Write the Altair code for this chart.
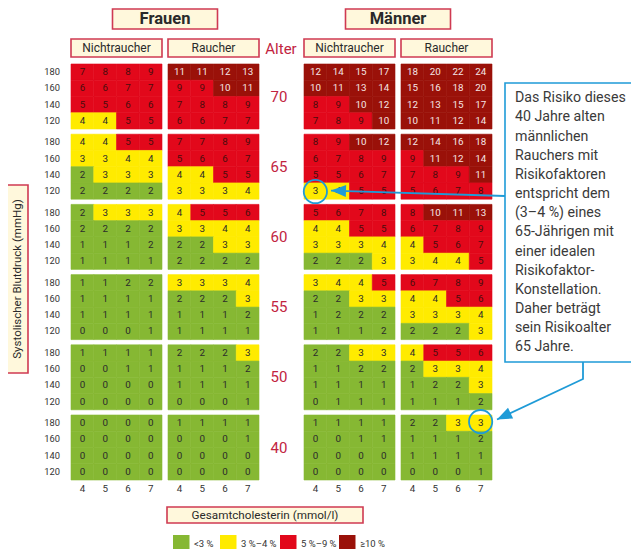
import math
import altair as alt
import pandas as pd

# ---------------- data ----------------
ages = [70, 65, 60, 55, 50, 40]
sbp_levels = [180, 160, 140, 120]
chol_levels = [4, 5, 6, 7]
sex_labels = ["Frauen", "Männer"]
smoke_labels = ["Nichtraucher", "Raucher"]

# risk (%) per age block -> rows SBP 180..120 -> columns cholesterol 4..7
frauen_nichtraucher = [
    [[7, 8, 8, 9], [6, 6, 7, 7], [5, 5, 6, 6], [4, 4, 5, 5]],
    [[4, 4, 5, 5], [3, 3, 4, 4], [2, 3, 3, 3], [2, 2, 2, 2]],
    [[2, 3, 3, 3], [2, 2, 2, 2], [1, 1, 1, 2], [1, 1, 1, 1]],
    [[1, 1, 2, 2], [1, 1, 1, 1], [1, 1, 1, 1], [0, 0, 0, 1]],
    [[1, 1, 1, 1], [0, 0, 1, 1], [0, 0, 0, 0], [0, 0, 0, 0]],
    [[0, 0, 0, 0], [0, 0, 0, 0], [0, 0, 0, 0], [0, 0, 0, 0]],
]
frauen_raucher = [
    [[11, 11, 12, 13], [9, 9, 10, 11], [7, 8, 8, 9], [6, 6, 7, 7]],
    [[7, 7, 8, 9], [5, 6, 6, 7], [4, 4, 5, 5], [3, 3, 3, 4]],
    [[4, 5, 5, 6], [3, 3, 4, 4], [2, 2, 3, 3], [2, 2, 2, 2]],
    [[3, 3, 3, 4], [2, 2, 2, 3], [1, 1, 1, 2], [1, 1, 1, 1]],
    [[2, 2, 2, 3], [1, 1, 1, 2], [1, 1, 1, 1], [0, 0, 0, 1]],
    [[1, 1, 1, 1], [0, 0, 0, 1], [0, 0, 0, 0], [0, 0, 0, 0]],
]
maenner_nichtraucher = [
    [[12, 14, 15, 17], [10, 11, 13, 14], [8, 9, 10, 12], [7, 8, 9, 10]],
    [[8, 9, 10, 12], [6, 7, 8, 9], [5, 5, 6, 7], [3, 4, 5, 5]],
    [[5, 6, 7, 8], [4, 4, 5, 5], [3, 3, 3, 4], [2, 2, 2, 3]],
    [[3, 4, 4, 5], [2, 2, 3, 3], [1, 2, 2, 2], [1, 1, 1, 2]],
    [[2, 2, 3, 3], [1, 1, 2, 2], [1, 1, 1, 1], [0, 1, 1, 1]],
    [[1, 1, 1, 1], [0, 0, 1, 1], [0, 0, 0, 0], [0, 0, 0, 0]],
]
maenner_raucher = [
    [[18, 20, 22, 24], [15, 16, 18, 20], [12, 13, 15, 17], [10, 11, 12, 14]],
    [[12, 14, 16, 18], [9, 11, 12, 14], [7, 8, 9, 11], [5, 6, 7, 8]],
    [[8, 10, 11, 13], [6, 7, 8, 9], [4, 5, 6, 7], [3, 4, 4, 5]],
    [[6, 7, 8, 9], [4, 4, 5, 6], [3, 3, 3, 4], [2, 2, 2, 3]],
    [[4, 5, 5, 6], [2, 3, 3, 4], [1, 2, 2, 3], [1, 1, 1, 2]],
    [[2, 2, 3, 3], [1, 1, 1, 2], [1, 1, 1, 1], [0, 0, 0, 1]],
]
panels = [frauen_nichtraucher, frauen_raucher, maenner_nichtraucher, maenner_raucher]

risk_labels = ["<3 %", "3 %\u20134 %", "5 %\u20139 %", "\u226510 %"]
risk_thresholds = [3, 5, 10]
risk_examples = [0, 3, 5, 10]
risk_colors = ["#86b833", "#ffeb00", "#e2081b", "#9a1109"]

note_lines = [
    "Das Risiko dieses", "40 Jahre alten", "männlichen", "Rauchers mit",
    "Risikofaktoren", "entspricht dem", "(3\u20134 %) eines", "65-Jährigen mit",
    "einer idealen", "Risikofaktor-", "Konstellation.", "Daher beträgt",
    "sein Risikoalter", "65 Jahre.",
]

# ---------------- layout (page pixels) ----------------
PANEL_LEFT = [71, 168, 304, 401]
CELL_W = 22.75
CELL_H = 16.25
BLOCK_TOP = [64 + i * 70.2 for i in range(len(ages))]
FONT = "Roboto"
RED_TXT = "#c2243f"
BOX_STROKE = "#cf3a52"
BOX_FILL = "#fff8dc"
BLUE = "#1f9bd7"
DARK = "#333333"

xs = alt.Scale(domain=[8, 631], nice=False, zero=False)
ys = alt.Scale(domain=[8, 549], reverse=True, nice=False, zero=False)
color_scale = alt.Scale(type="threshold", domain=risk_thresholds, range=risk_colors)

def X(f):
    return alt.X(f, type="quantitative", scale=xs, axis=None)

def Y(f):
    return alt.Y(f, type="quantitative", scale=ys, axis=None)

# ---------------- cells ----------------
rows = []
for g, grid in enumerate(panels):
    for b, age in enumerate(ages):
        for r, sbp in enumerate(sbp_levels):
            for c, chol in enumerate(chol_levels):
                rows.append(dict(g=g, b=b, r=r, c=c, age=age, sbp=sbp,
                                 chol=chol, risk=grid[b][r][c]))
cells = pd.DataFrame(rows)

cell_base = alt.Chart(cells).transform_calculate(
    x0=f"{PANEL_LEFT}[datum.g] + datum.c * {CELL_W}",
    y0=f"{BLOCK_TOP}[datum.b] + datum.r * {CELL_H}",
).transform_calculate(
    x1=f"datum.x0 + {CELL_W}",
    y1=f"datum.y0 + {CELL_H}",
    xc=f"datum.x0 + {CELL_W / 2}",
    yc=f"datum.y0 + {CELL_H / 2}",
    tc="datum.risk >= 10 ? '#f5e6e6' : (datum.risk >= 5 ? '#4a0d0d' : '#2b2b2b')",
)
cell_rect = cell_base.mark_rect(strokeWidth=0.6).encode(
    x=X("x0"), x2="x1", y=Y("y0"), y2="y1",
    color=alt.Color("risk:Q", scale=color_scale, legend=None),
    stroke=alt.Stroke("risk:Q", scale=color_scale, legend=None),
)
cell_text = cell_base.mark_text(font=FONT, fontSize=9.8, baseline="middle").encode(
    x=X("xc"), y=Y("yc"), text="risk:Q",
    fill=alt.Fill("tc:N", scale=None),
)

# ---------------- axis-like labels ----------------
sbp_df = pd.DataFrame([
    dict(t=str(s), x=PANEL_LEFT[0] - 11, y=BLOCK_TOP[b] + (r + 0.5) * CELL_H)
    for b in range(len(ages)) for r, s in enumerate(sbp_levels)
])
sbp_text = alt.Chart(sbp_df).mark_text(font=FONT, fontSize=9.3, align="right",
                                       baseline="middle", color=DARK).encode(
    x=X("x"), y=Y("y"), text="t:N")

chol_df = pd.DataFrame([
    dict(t=str(ch), x=PANEL_LEFT[g] + (c + 0.5) * CELL_W, y=BLOCK_TOP[-1] + 4 * CELL_H + 8.5)
    for g in range(4) for c, ch in enumerate(chol_levels)
])
chol_text = alt.Chart(chol_df).mark_text(font=FONT, fontSize=9.8, baseline="middle",
                                         color=DARK).encode(
    x=X("x"), y=Y("y"), text="t:N")

age_df = pd.DataFrame([dict(t=str(a), x=279, y=BLOCK_TOP[b] + 2 * CELL_H)
                       for b, a in enumerate(ages)] + [dict(t="Alter", x=281, y=49)])
age_text = alt.Chart(age_df).mark_text(font=FONT, fontSize=15, baseline="middle",
                                       color=RED_TXT).encode(
    x=X("x"), y=Y("y"), text="t:N")

# ---------------- header boxes ----------------
boxes = []
for s, lab in enumerate(sex_labels):
    cx = (PANEL_LEFT[2 * s] + PANEL_LEFT[2 * s + 1] + 4 * CELL_W) / 2
    boxes.append(dict(t=lab, kind="sex", x0=cx - 52.5, x1=cx + 52.5, y0=9, y1=29))
for g in range(4):
    boxes.append(dict(t=smoke_labels[g % 2], kind="smoke", x0=PANEL_LEFT[g],
                      x1=PANEL_LEFT[g] + 4 * CELL_W, y0=39, y1=57))
boxes.append(dict(t="Gesamtcholesterin (mmol/l)", kind="xtitle", x0=167, x1=363, y0=507, y1=523))
boxes.append(dict(t="Systolischer Blutdruck (mmHg)", kind="ytitle", x0=7, x1=28, y0=185, y1=373))
box_df = pd.DataFrame(boxes)
box_df["xc"] = (box_df.x0 + box_df.x1) / 2
box_df["yc"] = (box_df.y0 + box_df.y1) / 2

box_rect = alt.Chart(box_df).mark_rect(fill=BOX_FILL, stroke=BOX_STROKE, strokeWidth=1.6).encode(
    x=X("x0"), x2="x1", y=Y("y0"), y2="y1")
sex_text = alt.Chart(box_df[box_df.kind == "sex"]).mark_text(
    font=FONT, fontSize=16.5, fontWeight="bold", baseline="middle", color="#2a2a2a").encode(
    x=X("xc"), y=Y("yc"), text="t:N")
smoke_text = alt.Chart(box_df[box_df.kind == "smoke"]).mark_text(
    font=FONT, fontSize=12, baseline="middle", color="#2a2a2a").encode(
    x=X("xc"), y=Y("yc"), text="t:N")
xtitle_text = alt.Chart(box_df[box_df.kind == "xtitle"]).mark_text(
    font=FONT, fontSize=11.7, baseline="middle", color="#2a2a2a").encode(
    x=X("xc"), y=Y("yc"), text="t:N")
ytitle_text = alt.Chart(box_df[box_df.kind == "ytitle"]).mark_text(
    font=FONT, fontSize=11.5, angle=270, baseline="middle", color="#2a2a2a").encode(
    x=X("xc"), y=Y("yc"), text="t:N")

# ---------------- legend ----------------
leg_x = [173, 220, 280, 339]
leg_df = pd.DataFrame(dict(t=risk_labels, v=risk_examples, x0=leg_x,
                           x1=[v + 16.5 for v in leg_x], tx=[v + 21 for v in leg_x],
                           y0=[535] * 4, y1=[552] * 4, ty=[543.5] * 4))
leg_rect = alt.Chart(leg_df).mark_rect().encode(
    x=X("x0"), x2="x1", y=Y("y0"), y2="y1",
    color=alt.Color("v:Q", scale=color_scale, legend=None))
leg_text = alt.Chart(leg_df).mark_text(font=FONT, fontSize=9.5, align="left", baseline="middle",
                                       color=DARK).encode(
    x=X("tx"), y=Y("ty"), text="t:N")

# ---------------- annotation ----------------
note_box_df = pd.DataFrame([dict(x0=505, x1=633, y0=83, y1=362)])
note_box = alt.Chart(note_box_df).mark_rect(fill="white", stroke=BLUE, strokeWidth=1.6).encode(
    x=X("x0"), x2="x1", y=Y("y0"), y2="y1")
note_df = pd.DataFrame(dict(t=note_lines, x=[515] * len(note_lines),
                            y=[98.3 + i * 19.15 for i in range(len(note_lines))]))
note_text = alt.Chart(note_df).mark_text(font=FONT, fontSize=14.2, align="left",
                                         baseline="middle", color="#3a3a3a").encode(
    x=X("x"), y=Y("y"), text="t:N")

def cell_center(g, b, r, c):
    return (PANEL_LEFT[g] + (c + 0.5) * CELL_W, BLOCK_TOP[b] + (r + 0.5) * CELL_H)

c1 = cell_center(2, ages.index(65), sbp_levels.index(120), chol_levels.index(4))
c2 = cell_center(3, ages.index(40), sbp_levels.index(180), chol_levels.index(7))
circ_df = pd.DataFrame([dict(x=c1[0], y=c1[1] + 0.5), dict(x=c2[0], y=c2[1] - 1.5)])
circles = alt.Chart(circ_df).mark_point(shape="circle", filled=False, size=540,
                                        strokeWidth=1.8, color=BLUE, opacity=1).encode(
    x=X("x"), y=Y("y"))

arrow1 = [(505, 196), (331, 190.6)]
arrow2 = [(583, 362), (583, 379), (497, 419.5)]
line_rows = []
for k, pts in enumerate([arrow1, arrow2]):
    for i, (px, py) in enumerate(pts):
        line_rows.append(dict(k=k, i=i, x=px, y=py))
line_df = pd.DataFrame(line_rows)
arrow_lines = alt.Chart(line_df).mark_line(color=BLUE, strokeWidth=1.8).encode(
    x=X("x"), y=Y("y"), detail="k:N", order="i:Q")

heads = []
for pts in [arrow1, arrow2]:
    (ax, ay), (bx, by) = pts[-2], pts[-1]
    ang = math.degrees(math.atan2(bx - ax, -(by - ay))) % 360
    heads.append(dict(x=bx, y=by, ang=ang))
head_df = pd.DataFrame(heads)
arrow_heads = alt.Chart(head_df).mark_point(
    shape="M0,0L0.4,1L-0.4,1Z", filled=True, size=900, color=BLUE, opacity=1, strokeWidth=0
).encode(x=X("x"), y=Y("y"), angle=alt.Angle("ang:Q", scale=None))

chart = alt.layer(
    cell_rect, cell_text, sbp_text, chol_text, age_text,
    box_rect, sex_text, smoke_text, xtitle_text, ytitle_text, leg_rect, leg_text,
    note_box, note_text, arrow_lines, arrow_heads, circles,
).properties(
    width=623, height=541, padding=0, autosize="none", background="white"
).configure_view(stroke=None)

chart.save("out.html", embed_options={"renderer": "svg", "actions": False})
